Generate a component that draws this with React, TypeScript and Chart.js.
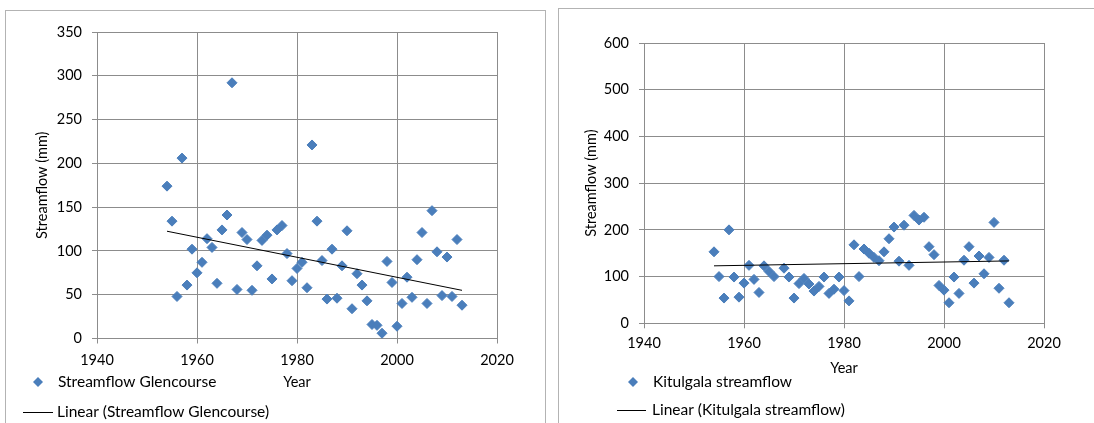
import React, { useEffect, useRef } from 'react';
import { Chart, registerables } from 'chart.js';

Chart.register(...registerables);

// ---------- data ----------
const glencourseYears = [
  1954, 1955, 1956, 1957, 1958, 1959, 1960, 1961, 1962, 1963,
  1964, 1965, 1966, 1967, 1968, 1969, 1970, 1971, 1972, 1973,
  1974, 1975, 1976, 1977, 1978, 1979, 1980, 1981, 1982, 1983,
  1984, 1985, 1986, 1987, 1988, 1989, 1990, 1991, 1992, 1993,
  1994, 1995, 1996, 1997, 1998, 1999, 2000, 2001, 2002, 2003,
  2004, 2005, 2006, 2007, 2008, 2009, 2010, 2011, 2012, 2013,
];
const glencourseFlow = [
  174, 134, 48, 206, 61, 102, 75, 87, 114, 104,
  63, 124, 141, 292, 56, 121, 113, 55, 83, 112,
  118, 68, 124, 129, 97, 66, 80, 87, 58, 221,
  134, 89, 45, 102, 46, 83, 123, 34, 74, 61,
  43, 16, 15, 6, 88, 64, 14, 40, 70, 47,
  90, 121, 40, 146, 99, 49, 93, 48, 113, 38,
];
const kitulgalaYears = [
  1954, 1955, 1956, 1957, 1958, 1959, 1960, 1961, 1962, 1963,
  1964, 1965, 1966, 1968, 1969, 1970, 1971, 1972, 1973,
  1974, 1975, 1976, 1977, 1978, 1979, 1980, 1981, 1982, 1983,
  1984, 1985, 1986, 1987, 1988, 1989, 1990, 1991, 1992, 1993,
  1994, 1995, 1996, 1997, 1998, 1999, 2000, 2001, 2002, 2003,
  2004, 2005, 2006, 2007, 2008, 2009, 2010, 2011, 2012, 2013,
];
const kitulgalaFlow = [
  153, 100, 54, 200, 99, 56, 86, 124, 94, 66,
  123, 111, 100, 118, 99, 54, 85, 96, 84,
  69, 79, 99, 64, 73, 99, 70, 48, 168, 100,
  159, 150, 141, 134, 153, 181, 206, 133, 210, 124,
  231, 221, 227, 164, 147, 81, 71, 44, 99, 64,
  135, 164, 86, 144, 106, 141, 216, 75, 135, 44,
];
// linear trendline end points
const trendYears = [1954, 2013];
const glencourseTrend = [122.5, 55];
const kitulgalaTrend = [123, 133.5];

const yearTicks = [1940, 1960, 1980, 2000, 2020];
const glencourseFlowTicks = [0, 50, 100, 150, 200, 250, 300, 350];
const kitulgalaFlowTicks = [0, 100, 200, 300, 400, 500, 600];

const seriesGlencourse = 'Streamflow Glencourse';
const seriesKitulgala = 'Kitulgala streamflow';
const axisTitleX = 'Year';
const axisTitleY = 'Streamflow (mm)';

// ---------- styles ----------
const FONT = 'Lato, "Open Sans", sans-serif';
const AXIS_FONT_SIZE = 14.5;
const LEGEND_FONT_SIZE = 15.5;
const BLUE = '#4A7EBB';
const GRID = '#8C8C8C';

type Layout = {
  width: number;
  pad: { left: number; top: number; right: number; bottom: number };
  yAxisWidth: number;
  xAxisHeight: number;
  yTitlePad: number;
  xTitlePad: number;
  xTickPad: number;
  legend: { markerX: number; markerY: number; textX: number; lineX1: number; lineX2: number; lineY: number; lineTextX: number };
};

function diamond(ctx: CanvasRenderingContext2D, x: number, y: number, r: number) {
  ctx.beginPath();
  ctx.moveTo(x, y - r);
  ctx.lineTo(x + r, y);
  ctx.lineTo(x, y + r);
  ctx.lineTo(x - r, y);
  ctx.closePath();
  ctx.fill();
}

function ScatterPanel(props: {
  left: number;
  layout: Layout;
  years: number[];
  flow: number[];
  trend: number[];
  yTicks: number[];
  series: string;
}) {
  const ref = useRef<HTMLCanvasElement | null>(null);
  const { layout, years, flow, trend, yTicks, series } = props;

  useEffect(() => {
    if (!ref.current) return;
    const L = layout;
    const legendPlugin = {
      id: 'excelLegend',
      afterDraw(chart: any) {
        const ctx = chart.ctx as CanvasRenderingContext2D;
        const g = L.legend;
        ctx.save();
        ctx.font = `${LEGEND_FONT_SIZE}px ${FONT}`;
        ctx.textAlign = 'left';
        ctx.textBaseline = 'middle';
        ctx.fillStyle = BLUE;
        diamond(ctx, g.markerX, g.markerY, 5);
        ctx.fillStyle = '#000';
        ctx.fillText(series, g.textX, g.markerY);
        ctx.strokeStyle = '#000';
        ctx.lineWidth = 1;
        ctx.beginPath();
        ctx.moveTo(g.lineX1, g.lineY + 0.5);
        ctx.lineTo(g.lineX2, g.lineY + 0.5);
        ctx.stroke();
        ctx.fillText(`Linear (${series})`, g.lineTextX, g.lineY);
        ctx.restore();
      },
    };

    const axisFont = { family: FONT, size: AXIS_FONT_SIZE };

    const chart = new Chart(ref.current, {
      type: 'scatter',
      data: {
        datasets: [
          {
            label: `Linear (${series})`,
            data: trendYears.map((x, i) => ({ x, y: trend[i] })),
            showLine: true,
            pointRadius: 0,
            borderColor: '#000',
            borderWidth: 1,
            order: 0,
          },
          {
            label: series,
            data: years.map((x, i) => ({ x, y: flow[i] })),
            pointStyle: 'rectRot',
            pointRadius: 5,
            backgroundColor: BLUE,
            borderColor: BLUE,
            borderWidth: 1,
            order: 1,
          },
        ],
      },
      options: {
        animation: false,
        responsive: false,
        maintainAspectRatio: false,
        layout: { padding: L.pad },
        plugins: { legend: { display: false }, tooltip: { enabled: false } },
        scales: {
          x: {
            type: 'linear',
            min: yearTicks[0],
            max: yearTicks[yearTicks.length - 1],
            ticks: {
              stepSize: yearTicks[1] - yearTicks[0],
              color: '#000',
              font: axisFont,
              padding: L.xTickPad,
              callback: (v: any) => String(v),
            },
            grid: { color: GRID, tickLength: 5, tickColor: GRID },
            border: { color: GRID },
            title: {
              display: true,
              text: axisTitleX,
              color: '#000',
              font: axisFont,
              padding: { top: 0, bottom: L.xTitlePad },
            },
            afterFit: (axis: any) => {
              axis.height = L.xAxisHeight;
            },
          },
          y: {
            type: 'linear',
            min: yTicks[0],
            max: yTicks[yTicks.length - 1],
            ticks: {
              stepSize: yTicks[1] - yTicks[0],
              color: '#000',
              font: axisFont,
              padding: 10,
              callback: (v: any) => String(v),
            },
            grid: { color: GRID, tickLength: 5, tickColor: GRID },
            border: { color: GRID },
            title: {
              display: true,
              text: axisTitleY,
              color: '#000',
              font: axisFont,
              padding: { top: L.yTitlePad, bottom: 0 },
            },
            afterFit: (axis: any) => {
              axis.width = L.yAxisWidth;
            },
          },
        },
      } as any,
      plugins: [legendPlugin],
    });
    return () => chart.destroy();
  }, []);

  return (
    <canvas
      ref={ref}
      width={layout.width}
      height={423}
      style={{ position: 'absolute', left: props.left, top: 0, width: layout.width, height: 423 }}
    />
  );
}

const leftLayout: Layout = {
  width: 552,
  pad: { left: 25, top: 32, right: 55, bottom: 24.5 },
  yAxisWidth: 72,
  xAxisHeight: 60,
  yTitlePad: 8.3,
  xTitlePad: 7.8,
  xTickPad: 7.8,
  legend: { markerX: 38, markerY: 382, textX: 58, lineX1: 23, lineX2: 53, lineY: 412, lineTextX: 57 },
};

const rightLayout: Layout = {
  width: 542,
  pad: { left: 22, top: 43, right: 50, bottom: 39.7 },
  yAxisWidth: 70,
  xAxisHeight: 60,
  yTitlePad: 8.3,
  xTitlePad: 6.6,
  xTickPad: 6.3,
  legend: { markerX: 81, markerY: 382, textX: 101, lineX1: 65, lineX2: 94, lineY: 410, lineTextX: 100 },
};

export default function App() {
  return (
    <div style={{ position: 'absolute', left: 0, top: 0, width: 1094, height: 423, overflow: 'hidden', background: '#fff' }}>
      <div style={{ position: 'absolute', left: 5, top: 10, width: 539, height: 500, border: '1px solid #B3B3B3' }} />
      <div style={{ position: 'absolute', left: 558, top: 8, width: 600, height: 500, border: '1px solid #B3B3B3' }} />
      <ScatterPanel
        left={0}
        layout={leftLayout}
        years={glencourseYears}
        flow={glencourseFlow}
        trend={glencourseTrend}
        yTicks={glencourseFlowTicks}
        series={seriesGlencourse}
      />
      <ScatterPanel
        left={552}
        layout={rightLayout}
        years={kitulgalaYears}
        flow={kitulgalaFlow}
        trend={kitulgalaTrend}
        yTicks={kitulgalaFlowTicks}
        series={seriesKitulgala}
      />
    </div>
  );
}
